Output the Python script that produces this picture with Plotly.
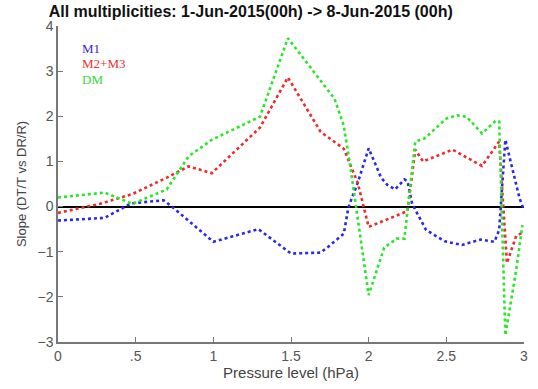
import plotly.graph_objects as go

# Slope of DT/T vs DR/R by pressure level, per multiplicity class
m1_p = [0.0, 0.30, 0.47, 0.68, 0.74, 1.0, 1.29, 1.50, 1.69, 1.74, 1.84, 1.87, 1.93, 2.0,
        2.08, 2.12, 2.17, 2.23, 2.25, 2.28, 2.37, 2.49, 2.60, 2.72, 2.81, 2.84, 2.88,
        2.92, 2.97, 3.0]
m1_s = [-0.31, -0.25, 0.07, 0.14, -0.02, -0.78, -0.50, -1.04, -1.02, -0.89, -0.60, -0.01,
        0.53, 1.29, 0.64, 0.48, 0.38, 0.60, 0.56, 0.06, -0.52, -0.77, -0.85, -0.73, -0.78,
        -0.52, 1.48, 0.93, 0.20, -0.09]

m23_p = [0.0, 0.27, 0.48, 0.70, 0.84, 0.99, 1.30, 1.48, 1.69, 1.84, 1.93, 2.0, 2.25,
         2.30, 2.35, 2.54, 2.73, 2.84, 2.89, 2.95, 3.0]
m23_s = [-0.14, 0.06, 0.28, 0.64, 0.89, 0.74, 1.75, 2.86, 1.66, 1.28, 0.52, -0.45, -0.10,
         1.26, 1.0, 1.26, 0.90, 1.44, -1.25, -0.65, -0.56]

dm_p = [0.0, 0.30, 0.48, 0.70, 0.84, 0.99, 1.30, 1.48, 1.78, 1.84, 1.88, 2.0, 2.10,
        2.18, 2.23, 2.30, 2.36, 2.50, 2.57, 2.63, 2.73, 2.82, 2.84, 2.88, 2.95, 2.99]
dm_s = [0.20, 0.31, 0.06, 0.38, 1.11, 1.48, 1.99, 3.73, 2.39, 1.79, 0.93, -1.96, -0.91,
        -0.71, -0.71, 1.44, 1.51, 1.95, 2.02, 1.99, 1.62, 1.91, 1.88, -2.85, -1.40, -0.41]

x_ticks = [0, 0.5, 1, 1.5, 2, 2.5, 3]
x_tick_text = ["0", ".5", "1", "1.5", "2", "2.5", "3"]
y_ticks = [-3, -2, -1, 0, 1, 2, 3, 4]

series = [
    ("M1", m1_p, m1_s, "#2a2ae6"),
    ("M2+M3", m23_p, m23_s, "#ee2a2a"),
    ("DM", dm_p, dm_s, "#2ae62a"),
]

fig = go.Figure()
for name, px, sy, col in series:
    fig.add_trace(go.Scatter(
        x=px, y=sy, mode="lines", name=name,
        line=dict(color=col, width=2.6, dash="dot"),
        showlegend=False,
    ))

# Text legend in the upper-left corner of the axes
label_colors = {"M1": "#3a2ab8", "M2+M3": "#f03030", "DM": "#30e030"}
for i, (name, _, _, _) in enumerate(series):
    fig.add_annotation(
        xref="paper", yref="paper", x=0.047, y=0.93 - i * 0.049,
        xanchor="left", yanchor="middle", showarrow=False,
        text=name,
        font=dict(family="Liberation Serif", size=13, color=label_colors[name]),
    )

fig.update_layout(
    width=538, height=389,
    margin=dict(l=57.5, r=10, t=26, b=42),
    paper_bgcolor="white", plot_bgcolor="white",
    title=dict(
        text="<b>All multiplicities: 1-Jun-2015(00h) -> 8-Jun-2015 (00h)</b>",
        x=0.466, xanchor="center", y=0.970, yanchor="middle",
        font=dict(family="Liberation Sans", size=16, color="#111111"),
    ),
    font=dict(family="Liberation Sans", size=14, color="#555555"),
)

fig.update_xaxes(
    range=[0, 3], tickvals=x_ticks, ticktext=x_tick_text,
    showgrid=False, zeroline=False,
    showline=True, linecolor="#777777", linewidth=1.5,
    ticks="inside", ticklen=5, tickcolor="#777777",
    title=dict(text="Pressure level (hPa)", standoff=5,
               font=dict(size=15, color="#444444")),
    tickfont=dict(size=14, color="#555555"),
)
fig.update_yaxes(
    range=[-3, 4], tickvals=y_ticks,
    showgrid=False, zeroline=True, zerolinecolor="#000000", zerolinewidth=1.6,
    showline=True, linecolor="#777777", linewidth=1.5,
    ticks="inside", ticklen=5, tickcolor="#777777",
    title=dict(text="Slope (DT/T vs DR/R)", standoff=8,
               font=dict(size=13, color="#444444")),
    tickfont=dict(size=14, color="#555555"),
)

fig.write_html("out.html")
